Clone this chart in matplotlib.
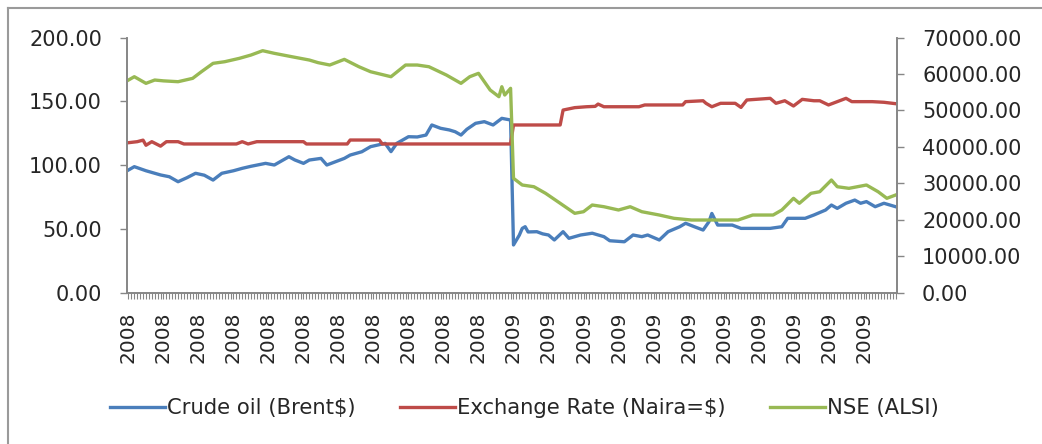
import matplotlib
matplotlib.use('Agg')
import matplotlib.pyplot as plt
import matplotlib.ticker as ticker
from matplotlib.lines import Line2D

# ---- data (x = trading-day index, 264 categories) ----
n_days = 264
label_days = list(range(0, 253, 12))
year_labels = ['2008'] * 11 + ['2009'] * 11

oil_day = [0, 2, 6, 11, 14, 17, 20, 23, 26, 29, 32, 36, 39, 42, 47, 50, 55, 57, 60, 62,
           66, 68, 71, 74, 76, 80, 83, 88, 90, 92, 96, 99, 102, 104, 107, 110, 112, 114, 116, 119,
           122, 125, 128, 131,
           132, 134, 135, 136, 137, 140, 142, 144, 146, 149, 151, 155, 159, 163, 165, 170, 173, 176, 178, 182,
           185, 189, 191, 194, 197, 199, 200, 202, 207, 210, 216, 220, 224, 226, 232, 235, 239, 241, 243, 246,
           249, 251, 253, 256, 259, 263]
oil_price = [96.1, 98.7, 95.5, 92.2, 90.8, 86.9, 90.0, 93.5, 92.0, 88.2, 93.5, 95.5, 97.4, 99.0, 101.3, 100.0, 106.5, 104.0, 101.3, 103.9,
             105.2, 100.0, 102.6, 105.2, 107.8, 110.4, 114.4, 117.0, 110.5, 117.0, 122.2, 122.0, 123.5, 131.4, 128.8, 127.5, 126.1, 123.5, 128.0, 132.7,
             134.0, 131.4, 136.6, 135.3,
             37.3, 45.0, 50.3, 51.6, 47.5, 47.7, 46.0, 45.1, 41.2, 47.7, 42.5, 45.1, 46.5, 43.8, 40.6, 39.8, 45.1, 43.8, 45.1, 41.2,
             47.7, 51.6, 54.3, 51.6, 49.0, 55.5, 62.0, 52.9, 52.9, 50.3, 50.3, 50.3, 51.6, 58.2, 58.2, 60.8, 64.7, 68.6, 66.0, 70.0,
             72.5, 70.0, 71.3, 67.3, 70.0, 67.3]

fx_day = [0, 3, 5, 6, 8, 11, 13, 17, 19, 37, 39, 41, 44, 60, 61, 75, 76, 86, 87, 131,
          132, 148, 149, 153, 157, 160, 161, 163, 175, 177, 190, 191, 197, 198, 200, 203, 208, 210, 212, 220,
          222, 225, 228, 231, 235, 237, 240, 243, 246, 248, 255, 259, 263]
fx_rate = [117.5, 118.3, 119.5, 115.5, 118.3, 114.8, 118.3, 118.3, 116.5, 116.5, 118.3, 116.5, 118.3, 118.3, 116.5, 116.5, 119.6, 119.6, 116.5, 116.5,
           131.4, 131.4, 143.1, 145.0, 145.7, 146.0, 147.8, 145.7, 145.7, 147.1, 147.1, 149.7, 150.4, 148.4, 145.7, 148.4, 148.4, 145.2, 151.0, 152.3,
           148.4, 150.4, 146.3, 151.5, 150.4, 150.4, 147.1, 149.7, 152.3, 149.7, 149.7, 149.2, 148.1]

nse_day = [0, 2, 6, 9, 12, 17, 22, 25, 29, 33, 38, 42, 46, 50, 56, 62, 65, 69, 74, 79,
           83, 90, 95, 99, 103, 109, 114, 117, 120, 124, 127, 128, 129, 131,
           132, 135, 139, 143, 148, 153, 156, 159, 163, 168, 172, 176, 182, 187, 193, 209,
           214, 221, 224, 228, 230, 234, 237, 241, 243, 247, 253, 257, 260, 263]
nse_index = [58330, 59240, 57420, 58330, 58100, 57870, 58790, 60610, 62910, 63360, 64280, 65190, 66380, 65660, 64730, 63820, 63100, 62450, 64000, 61980,
             60610, 59240, 62450, 62450, 61980, 59700, 57420, 59240, 60170, 55590, 53750, 56490, 54210, 56050,
             31350, 29510, 29040, 27230, 24490, 21740, 22180, 24020, 23550, 22650, 23550, 22180, 21270, 20370, 19900, 19900,
             21270, 21270, 22650, 25860, 24490, 27230, 27670, 30880, 29040, 28600, 29510, 27670, 25860, 26760]

plt.rcParams['font.family'] = 'DejaVu Sans'
text_color = '#262626'
axis_color = '#868686'

fig = plt.figure(figsize=(10.42, 4.44), dpi=100)
ax = fig.add_axes([0.1219, 0.3412, 0.7390, 0.5743])
ax2 = ax.twinx()

ax.plot(oil_day, oil_price, color='#4a7ebb', lw=2.4, solid_joinstyle='round', label='Crude oil (Brent$)')
ax.plot(fx_day, fx_rate, color='#be4b48', lw=2.4, solid_joinstyle='round', label='Exchange Rate (Naira=$)')
ax2.plot(nse_day, nse_index, color='#98b954', lw=2.4, solid_joinstyle='round', label='NSE (ALSI)')

ax.set_xlim(-0.5, n_days - 0.5)
ax.set_ylim(0, 200)
ax2.set_ylim(0, 70000)
ax.yaxis.set_major_locator(ticker.MultipleLocator(50))
ax2.yaxis.set_major_locator(ticker.MultipleLocator(10000))
ax.yaxis.set_major_formatter(ticker.FormatStrFormatter('%.2f'))
ax2.yaxis.set_major_formatter(ticker.FormatStrFormatter('%.2f'))

ax.set_xticks(label_days)
ax.set_xticklabels(year_labels, rotation=90, fontsize=14.5, color=text_color)
ax.xaxis.set_minor_locator(ticker.MultipleLocator(1))

for a in (ax, ax2):
    a.spines['top'].set_visible(False)
    for side in ('left', 'right', 'bottom'):
        a.spines[side].set_color(axis_color)
        a.spines[side].set_linewidth(1.2)

ax.tick_params(axis='x', which='both', direction='out', length=4.5, width=0.8,
               color=axis_color, pad=9)
ax.tick_params(axis='y', direction='out', length=5, width=1, color=axis_color,
               labelsize=15, labelcolor=text_color, pad=13)
ax2.tick_params(axis='y', direction='out', length=5, width=1, color=axis_color,
                labelsize=15, labelcolor=text_color, pad=13)

# legend at the bottom
handles = ax.get_lines() + ax2.get_lines()
fig.legend(handles, [h.get_label() for h in handles], loc='center',
           bbox_to_anchor=(0.503, 0.081), ncol=3, frameon=False, fontsize=15.2,
           handlelength=2.6, handletextpad=0.1, columnspacing=2.1,
           labelcolor=text_color)

# outer chart frame (top and left edges visible)
fig.add_artist(Line2D([0.0075, 1.0], [0.983, 0.983], transform=fig.transFigure,
                      color='#9a9a9a', lw=1.5))
fig.add_artist(Line2D([0.0075, 0.0075], [0.0, 0.983], transform=fig.transFigure,
                      color='#9a9a9a', lw=1.5))

fig.savefig('out.png', dpi=100)
